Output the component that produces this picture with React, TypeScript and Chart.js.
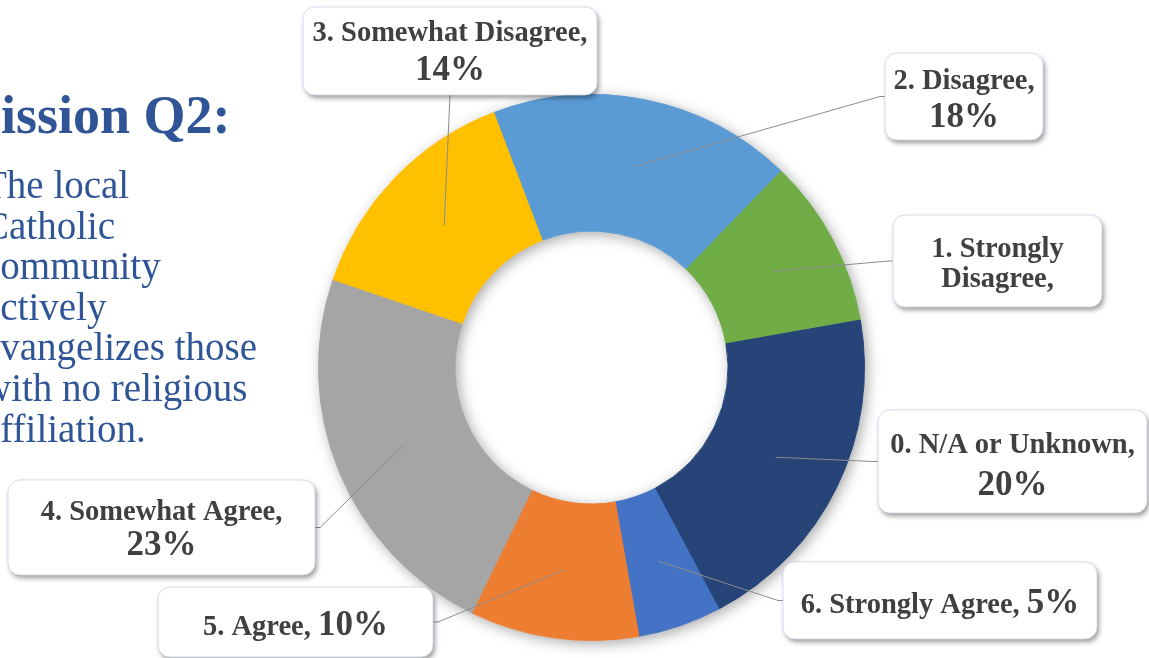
import React, { useEffect, useRef } from 'react';
import { Chart, registerables } from 'chart.js';

Chart.register(...registerables);

// ---------- data ----------
const categories = [
  '6. Strongly Agree',
  '5. Agree',
  '4. Somewhat Agree',
  '3. Somewhat Disagree',
  '2. Disagree',
  '1. Strongly Disagree',
  '0. N/A or Unknown',
];
const values = [5, 10, 23, 14, 18, 10, 20];
const colors = ['#4472C4', '#ED7D31', '#A5A5A5', '#FFC000', '#5B9BD5', '#70AD47', '#264478'];

const titleText = 'Mission Q2:';
const bodyLines = [
  'The local',
  'Catholic',
  'community',
  'actively',
  'evangelizes those',
  'with no religious',
  'affiliation.',
];

// ---------- layout (positions / styles only) ----------
type Anchor = 'left' | 'right' | 'bottom';
type Mode = 'inline' | 'stacked' | 'wrap';
interface LabelLayout {
  x: number; y: number; w: number; h: number;
  anchor: Anchor; mode: Mode; baselines: number[];
}
const labelLayouts: LabelLayout[] = [
  { x: 783, y: 562, w: 314, h: 77, anchor: 'left', mode: 'inline', baselines: [613] },
  { x: 158, y: 587, w: 275, h: 70, anchor: 'right', mode: 'inline', baselines: [635] },
  { x: 8, y: 480, w: 307, h: 95, anchor: 'right', mode: 'stacked', baselines: [520, 555] },
  { x: 303, y: 7, w: 294, h: 88, anchor: 'bottom', mode: 'stacked', baselines: [41, 80] },
  { x: 885, y: 53, w: 158, h: 87, anchor: 'left', mode: 'stacked', baselines: [89, 127] },
  { x: 893, y: 215, w: 209, h: 92, anchor: 'left', mode: 'wrap', baselines: [257, 287] },
  { x: 878, y: 410, w: 269, h: 103, anchor: 'left', mode: 'stacked', baselines: [453, 495] },
];

const SERIF = '"Liberation Serif", "Times New Roman", serif';
const CAT_FONT = `bold 28.5px ${SERIF}`;
const PCT_FONT = `bold 35px ${SERIF}`;
const LABEL_COLOR = '#404040';
const TEXT_BLUE = '#2F5597';

const total = values.reduce((a, b) => a + b, 0);
const pctText = (v: number) => `${Math.round((v / total) * 100)}%`;

type Seg = { t: string; big: boolean };

function buildLines(i: number, mode: Mode): Seg[][] {
  const cat = categories[i];
  const pct = pctText(values[i]);
  if (mode === 'inline') return [[{ t: cat + ', ', big: false }, { t: pct, big: true }]];
  if (mode === 'stacked') return [[{ t: cat + ',', big: false }], [{ t: pct, big: true }]];
  const words = cat.split(' ');
  return [
    [{ t: words.slice(0, 2).join(' '), big: false }],
    [{ t: words.slice(2).join(' ') + ',', big: false }],
  ];
}

const decorPlugin = {
  id: 'decor',
  beforeDatasetsDraw(chart: any) {
    const meta = chart.getDatasetMeta(0);
    const a = meta.data[0];
    if (!a) return;
    const { x, y, outerRadius, innerRadius } = a.getProps(['x', 'y', 'outerRadius', 'innerRadius'], true);
    const ctx = chart.ctx as CanvasRenderingContext2D;
    ctx.save();
    ctx.beginPath();
    ctx.arc(x, y, outerRadius, 0, Math.PI * 2);
    ctx.arc(x, y, innerRadius, 0, Math.PI * 2, true);
    ctx.closePath();
    ctx.fillStyle = '#ffffff';
    ctx.shadowColor = 'rgba(0,0,0,0.35)';
    ctx.shadowBlur = 14;
    ctx.shadowOffsetX = 3;
    ctx.shadowOffsetY = 3;
    ctx.fill();
    ctx.restore();
  },
  afterDatasetsDraw(chart: any) {
    const ctx = chart.ctx as CanvasRenderingContext2D;
    const meta = chart.getDatasetMeta(0);

    // left-hand text
    ctx.save();
    ctx.fillStyle = TEXT_BLUE;
    ctx.textBaseline = 'alphabetic';
    ctx.textAlign = 'left';
    ctx.font = `bold 54px ${SERIF}`;
    ctx.fillText(titleText, -50, 133);
    ctx.font = `39px ${SERIF}`;
    bodyLines.forEach((l, k) => ctx.fillText(l, -17, 198 + k * 40.6));
    ctx.restore();

    // leader lines
    ctx.save();
    ctx.strokeStyle = '#8C8C8C';
    ctx.lineWidth = 1;
    meta.data.forEach((arc: any, i: number) => {
      const L = labelLayouts[i];
      const p = arc.tooltipPosition(true);
      let ax: number, ay: number, ex: number, ey: number;
      if (L.anchor === 'left') { ax = L.x; ay = L.y + L.h / 2; ex = ax - 5; ey = ay; }
      else if (L.anchor === 'right') { ax = L.x + L.w; ay = L.y + L.h / 2; ex = ax + 5; ey = ay; }
      else { ax = L.x + L.w / 2; ay = L.y + L.h; ex = ax; ey = ay; }
      ctx.beginPath();
      ctx.moveTo(p.x, p.y);
      ctx.lineTo(ex, ey);
      ctx.lineTo(ax, ay);
      ctx.stroke();
    });
    ctx.restore();

    // boxes + text
    meta.data.forEach((_arc: any, i: number) => {
      const L = labelLayouts[i];
      ctx.save();
      ctx.beginPath();
      (ctx as any).roundRect(L.x, L.y, L.w, L.h, 12);
      ctx.fillStyle = '#ffffff';
      ctx.shadowColor = 'rgba(0,0,0,0.4)';
      ctx.shadowBlur = 5;
      ctx.shadowOffsetX = 2;
      ctx.shadowOffsetY = 3;
      ctx.fill();
      ctx.shadowColor = 'transparent';
      ctx.strokeStyle = 'rgba(205,214,232,0.8)';
      ctx.lineWidth = 1;
      ctx.stroke();
      ctx.restore();

      const lines = buildLines(i, L.mode);
      ctx.save();
      ctx.fillStyle = LABEL_COLOR;
      ctx.textAlign = 'left';
      ctx.textBaseline = 'alphabetic';
      lines.forEach((segs, k) => {
        let w = 0;
        segs.forEach((s) => { ctx.font = s.big ? PCT_FONT : CAT_FONT; w += ctx.measureText(s.t).width; });
        let cx = L.x + L.w / 2 - w / 2;
        segs.forEach((s) => {
          ctx.font = s.big ? PCT_FONT : CAT_FONT;
          ctx.fillText(s.t, cx, L.baselines[k]);
          cx += ctx.measureText(s.t).width;
        });
      });
      ctx.restore();
    });
  },
};

export default function App() {
  const ref = useRef<HTMLCanvasElement | null>(null);
  useEffect(() => {
    document.body.style.margin = '0';
    const canvas = ref.current;
    if (!canvas) return;
    const chart = new Chart(canvas, {
      type: 'doughnut',
      data: {
        labels: categories,
        datasets: [
          {
            data: values,
            backgroundColor: colors,
            borderColor: colors,
            borderWidth: 1,
          },
        ],
      },
      options: {
        responsive: false,
        animation: false,
        devicePixelRatio: 1,
        rotation: 152,
        cutout: '50%',
        layout: { padding: { left: 318, right: 284, top: 94, bottom: 17 } },
        plugins: {
          legend: { display: false },
          tooltip: { enabled: false },
        },
      },
      plugins: [decorPlugin],
    });
    return () => chart.destroy();
  }, []);
  return (
    <div style={{ position: 'fixed', left: 0, top: 0, width: 1149, height: 658, background: '#fff' }}>
      <canvas ref={ref} width={1149} height={658} style={{ display: 'block' }} />
    </div>
  );
}
